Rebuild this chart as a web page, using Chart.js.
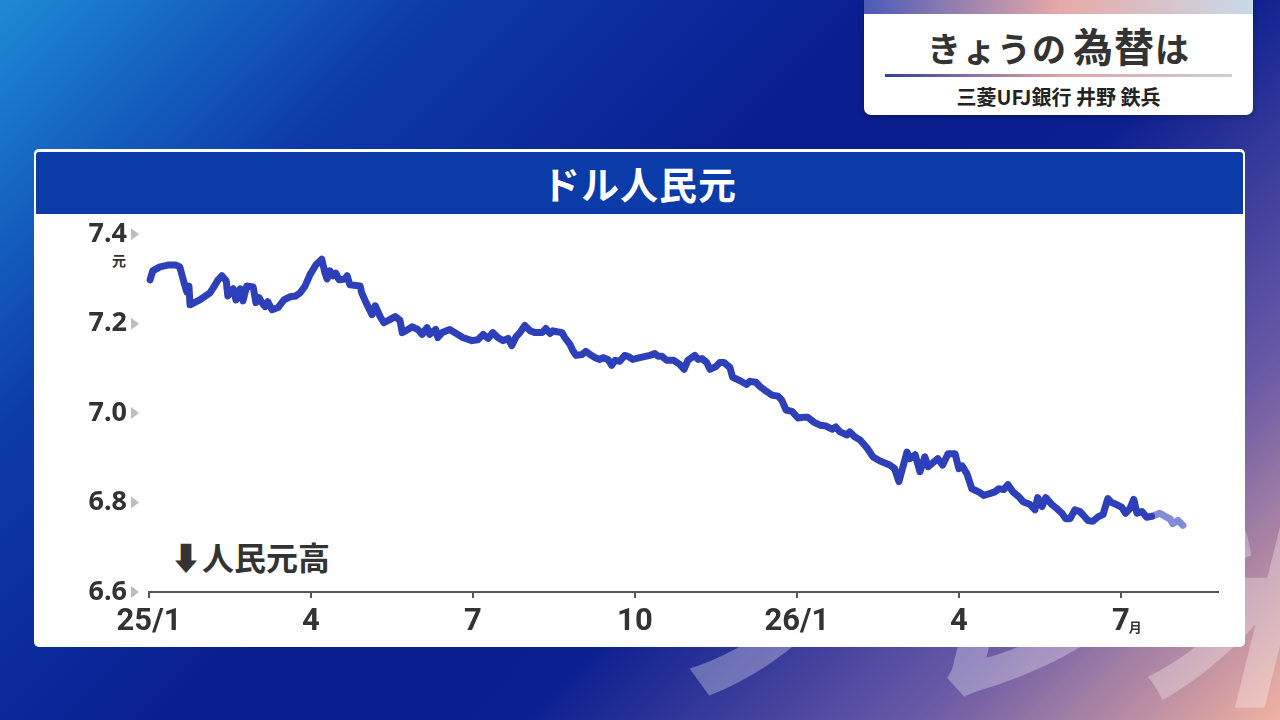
<!DOCTYPE html>
<html lang="ja">
<head>
<meta charset="UTF-8">
<title>ドル人民元</title>
<script src="https://cdn.jsdelivr.net/npm/chart.js@4.4.1/dist/chart.umd.min.js"></script>
<style>
  body { margin: 0; width: 1280px; height: 720px; overflow: hidden; position: relative;
    font-family: "Noto Sans CJK JP", "Noto Sans", sans-serif;
    background: linear-gradient(135deg, #1d8ad6 0%, #0d3aa8 22%, #0a1d8e 45%, #0b1f90 62%, #6a5aa6 82%, #f2b2a2 100%); }
  .wm { position: absolute; left: 660px; top: 420px; font-size: 230px; font-weight: bold; font-style: italic;
    color: rgba(255,255,255,0.3); letter-spacing: 10px; z-index: 0; white-space: nowrap; }
  .topbox { position: absolute; left: 864px; top: 0; width: 389px; height: 115px; background: #fff;
    border-radius: 0 0 7px 7px; z-index: 2; box-shadow: 0 2px 6px rgba(0,0,0,0.25); overflow: hidden; }
  .topbox .strip { height: 14px; background: linear-gradient(90deg, #4b5ab8, #e7a8a8 50%, #c9dae8); }
  .topbox .title { position: absolute; left: 0; width: 100%; top: 22px; text-align: center; font-weight: bold;
    color: #333; font-size: 34px; line-height: 46px; letter-spacing: 1px; }
  .topbox .title .big { font-size: 40px; margin-left: 6px; }
  .topbox .rule { position: absolute; left: 21px; width: 347px; top: 74px; height: 3px;
    background: linear-gradient(90deg, #2f3fa0, #e2a2a4 50%, #c7cfd9); }
  .topbox .sub { position: absolute; left: 0; width: 100%; top: 84px; text-align: center; font-weight: bold;
    color: #222; font-size: 20px; line-height: 26px; }
  .panel { position: absolute; left: 34px; top: 149px; width: 1211px; height: 498px; background: #fff;
    border-radius: 5px; z-index: 1; }
  .panel .head { position: absolute; left: 2px; top: 3px; width: 1207px; height: 62px; background: #0b3ba9;
    border-radius: 3px 3px 0 0; color: #fff; font-weight: bold; font-size: 38px; line-height: 62px; text-align: center;
    letter-spacing: 1px; }
  .unit { position: absolute; left: 78px; top: 101px; font-size: 14px; font-weight: bold; color: #333; }
  .note { position: absolute; left: 136px; top: 384px; font-size: 32px; font-weight: bold; color: #333; }
  canvas { position: absolute; left: 0; top: 47px; }
</style>
</head>
<body>
<div class="wm">ノレ米</div>
<div class="topbox">
  <div class="strip"></div>
  <div class="title">きょうの<span class="big">為替</span>は</div>
  <div class="rule"></div>
  <div class="sub">三菱UFJ銀行 井野 鉄兵</div>
</div>
<div class="panel">
  <div class="head">ドル人民元</div>
  <div class="unit">元</div>
  <div class="note">⬇人民元高</div>
  <canvas id="myChart" width="1211" height="451"></canvas>
</div>
<script>
// months since 2025/1
var months = [0.02, 0.07, 0.20, 0.35, 0.50, 0.57, 0.65, 0.70, 0.74, 0.76, 0.94, 1.13, 1.19, 1.28, 1.35, 1.43, 1.46, 1.56, 1.61, 1.69,
  1.74, 1.81, 1.93, 1.98, 2.04, 2.09, 2.15, 2.20, 2.28, 2.39, 2.50, 2.61, 2.72, 2.80, 2.89, 2.98, 3.09, 3.20, 3.26, 3.30,
  3.35, 3.41, 3.46, 3.52, 3.63, 3.67, 3.72, 3.91, 3.94, 4.02, 4.13, 4.19, 4.28, 4.35, 4.46, 4.56, 4.65, 4.69, 4.80, 4.87,
  4.98, 5.06, 5.15, 5.20, 5.31, 5.35, 5.43, 5.57, 5.72, 5.81, 5.98, 6.09, 6.19, 6.28, 6.37, 6.46, 6.56, 6.65, 6.72, 6.80,
  6.87, 6.96, 7.06, 7.15, 7.28, 7.35, 7.43, 7.48, 7.56, 7.65, 7.70, 7.80, 7.85, 7.91, 8.02, 8.09, 8.17, 8.26, 8.35, 8.41,
  8.50, 8.57, 8.63, 8.72, 8.81, 8.87, 8.96, 9.09, 9.28, 9.37, 9.43, 9.50, 9.59, 9.72, 9.83, 9.91, 9.98, 10.11, 10.17, 10.24,
  10.33, 10.39, 10.50, 10.57, 10.65, 10.76, 10.81, 10.94, 11.07, 11.13, 11.24, 11.31, 11.43, 11.54, 11.65, 11.72, 11.80, 11.91, 12.02, 12.13,
  12.20, 12.31, 12.43, 12.54, 12.65, 12.72, 12.80, 12.93, 12.98, 13.07, 13.17, 13.22, 13.30, 13.41, 13.54, 13.72, 13.81, 13.89, 13.94, 14.04,
  14.09, 14.19, 14.28, 14.37, 14.43, 14.50, 14.61, 14.70, 14.80, 14.93, 15.00, 15.06, 15.15, 15.24, 15.31, 15.39, 15.46, 15.57, 15.67, 15.74,
  15.83, 15.91, 16.00, 16.11, 16.19, 16.31, 16.41, 16.46, 16.54, 16.61, 16.72, 16.81, 16.91, 16.98, 17.06, 17.15, 17.24, 17.31, 17.39, 17.48,
  17.59, 17.67, 17.76, 17.83, 17.91, 18.02, 18.09, 18.17, 18.24, 18.30, 18.39, 18.48, 18.57, 18.72, 18.85, 18.91, 18.96, 19.06, 19.15];
var rates = [7.298, 7.318, 7.327, 7.331, 7.331, 7.327, 7.291, 7.271, 7.284, 7.242, 7.253, 7.269, 7.280, 7.298, 7.307, 7.296, 7.262, 7.278, 7.253, 7.278,
  7.251, 7.284, 7.282, 7.247, 7.258, 7.247, 7.238, 7.249, 7.231, 7.236, 7.253, 7.260, 7.262, 7.269, 7.284, 7.309, 7.331, 7.344, 7.313, 7.300,
  7.318, 7.307, 7.313, 7.298, 7.300, 7.307, 7.287, 7.284, 7.269, 7.247, 7.220, 7.240, 7.216, 7.202, 7.209, 7.216, 7.207, 7.180, 7.187, 7.193,
  7.187, 7.176, 7.191, 7.176, 7.187, 7.169, 7.180, 7.187, 7.176, 7.169, 7.162, 7.164, 7.176, 7.167, 7.180, 7.169, 7.162, 7.167, 7.151, 7.171,
  7.180, 7.196, 7.184, 7.180, 7.180, 7.189, 7.178, 7.184, 7.182, 7.180, 7.169, 7.153, 7.140, 7.129, 7.131, 7.138, 7.131, 7.124, 7.120, 7.124,
  7.120, 7.107, 7.118, 7.116, 7.129, 7.127, 7.120, 7.124, 7.129, 7.133, 7.127, 7.127, 7.118, 7.118, 7.109, 7.098, 7.118, 7.129, 7.120, 7.122,
  7.113, 7.098, 7.104, 7.113, 7.113, 7.102, 7.080, 7.073, 7.064, 7.071, 7.069, 7.060, 7.049, 7.040, 7.038, 7.029, 7.007, 7.004, 6.989, 6.991,
  6.991, 6.980, 6.973, 6.971, 6.964, 6.969, 6.958, 6.951, 6.958, 6.947, 6.940, 6.933, 6.922, 6.902, 6.893, 6.884, 6.876, 6.847, 6.869, 6.913,
  6.898, 6.907, 6.869, 6.902, 6.880, 6.887, 6.898, 6.884, 6.909, 6.909, 6.876, 6.882, 6.864, 6.831, 6.827, 6.822, 6.816, 6.820, 6.824, 6.831,
  6.829, 6.840, 6.824, 6.813, 6.802, 6.796, 6.784, 6.811, 6.791, 6.811, 6.796, 6.787, 6.776, 6.764, 6.764, 6.784, 6.780, 6.771, 6.760, 6.758,
  6.769, 6.773, 6.809, 6.800, 6.796, 6.789, 6.776, 6.787, 6.807, 6.776, 6.780, 6.767, 6.769, 6.776, 6.767, 6.764, 6.753, 6.760, 6.749];
var xTicks = [0, 3, 6, 9, 12, 15, 18];
var xLabels = ["25/1", "4", "7", "10", "26/1", "4", "7"];
var yTicks = [6.6, 6.8, 7.0, 7.2, 7.4];

var points = [];
for (var i = 0; i < months.length; i++) {
  points.push({ x: months[i], y: rates[i] });
}

// gray triangles after y labels, small 月 after last x label
var extras = {
  id: 'extras',
  afterDraw: function (chart) {
    var ctx = chart.ctx;
    var ys = chart.scales.y, xs = chart.scales.x;
    var left = chart.chartArea.left;
    ctx.save();
    ctx.fillStyle = '#bdbdbd';
    for (var i = 0; i < yTicks.length; i++) {
      var py = ys.getPixelForValue(yTicks[i]);
      ctx.beginPath();
      ctx.moveTo(left - 18, py - 6);
      ctx.lineTo(left - 10, py);
      ctx.lineTo(left - 18, py + 6);
      ctx.closePath();
      ctx.fill();
    }
    ctx.fillStyle = '#333';
    ctx.font = 'bold 13px "Noto Sans CJK JP"';
    ctx.textBaseline = 'alphabetic';
    ctx.fillText('月', xs.getPixelForValue(18) + 8, chart.chartArea.bottom + 40);
    ctx.restore();
  }
};

var ctx = document.getElementById('myChart').getContext('2d');
var myChart = new Chart(ctx, {
  type: 'line',
  data: {
    datasets: [{
      data: points,
      borderColor: '#2e40b9',
      borderWidth: 7,
      pointRadius: 0,
      tension: 0,
      borderJoinStyle: 'round',
      borderCapStyle: 'round',
      clip: false,
      segment: {
        borderColor: function (c) { return c.p0.parsed.x >= 18.55 ? 'rgba(46,64,185,0.6)' : undefined; }
      }
    }]
  },
  options: {
    responsive: false,
    animation: false,
    layout: { padding: { left: 0, top: 0, right: 27, bottom: 0 } },
    plugins: { legend: { display: false }, tooltip: { enabled: false } },
    scales: {
      x: {
        type: 'linear',
        min: 0,
        max: 19.8,
        afterBuildTicks: function (scale) {
          scale.ticks = xTicks.map(function (v) { return { value: v }; });
        },
        afterFit: function (scale) { scale.height = 55; },
        border: { display: true, color: '#555', width: 2 },
        grid: { display: true, drawOnChartArea: false, drawTicks: true, tickLength: 6, color: '#555', lineWidth: 2 },
        ticks: {
          autoSkip: false,
          maxRotation: 0,
          padding: 6,
          color: '#333',
          font: { family: '"Liberation Sans Narrow", Roboto, sans-serif', size: 31, weight: 'bold' },
          callback: function (v) {
            var k = xTicks.indexOf(v);
            return k >= 0 ? xLabels[k] : '';
          }
        }
      },
      y: {
        min: 6.6,
        max: 7.4,
        afterBuildTicks: function (scale) {
          scale.ticks = yTicks.map(function (v) { return { value: v }; });
        },
        afterFit: function (scale) { scale.width = 115; },
        border: { display: false },
        grid: { display: false, drawTicks: false },
        ticks: {
          padding: 22,
          color: '#333',
          font: { family: '"Noto Sans", sans-serif', size: 27, weight: 'bold' },
          callback: function (v) { return v.toFixed(1); }
        }
      }
    }
  },
  plugins: [extras]
});
</script>
</body>
</html>
